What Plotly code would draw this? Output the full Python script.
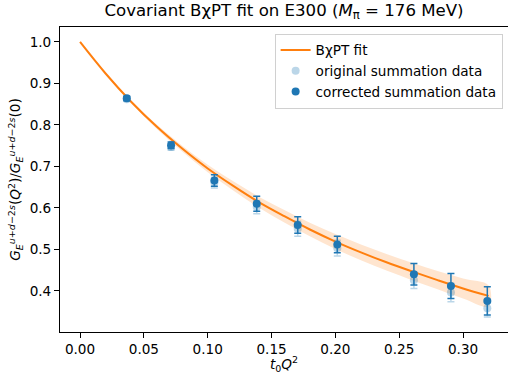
import plotly.graph_objects as go

# Data points (t0 Q^2)
x_pts = [0.0366, 0.0713, 0.1052, 0.1384, 0.1705, 0.2015, 0.2615, 0.2905, 0.3190]
# corrected summation data
y_corr = [0.864, 0.751, 0.666, 0.610, 0.559, 0.512, 0.440, 0.412, 0.376]
e_corr = [0.005, 0.008, 0.014, 0.018, 0.020, 0.020, 0.026, 0.030, 0.034]
# original summation data
y_orig = [0.862, 0.747, 0.661, 0.602, 0.550, 0.503, 0.426, 0.396, 0.358]
e_orig = [0.005, 0.008, 0.013, 0.016, 0.018, 0.019, 0.020, 0.022, 0.021]

# BχPT fit curve with error band
x_fit = [0.00, 0.02, 0.04, 0.06, 0.08, 0.10, 0.12, 0.14, 0.16, 0.18, 0.20,
         0.22, 0.24, 0.26, 0.28, 0.30, 0.32]
y_fit = [1.000, 0.924, 0.856, 0.796, 0.743, 0.695, 0.653, 0.614, 0.580, 0.548,
         0.519, 0.493, 0.469, 0.447, 0.426, 0.406, 0.388]
y_fit_hi = [1.000, 0.925, 0.859, 0.801, 0.750, 0.704, 0.664, 0.627, 0.595, 0.564,
            0.537, 0.512, 0.489, 0.468, 0.448, 0.430, 0.413]
y_fit_lo = [1.000, 0.923, 0.853, 0.791, 0.736, 0.686, 0.642, 0.601, 0.565, 0.532,
            0.501, 0.474, 0.449, 0.426, 0.404, 0.382, 0.363]

x_ticks = [0.00, 0.05, 0.10, 0.15, 0.20, 0.25, 0.30]
y_ticks = [0.4, 0.5, 0.6, 0.7, 0.8, 0.9, 1.0]

BLUE = "#1f77b4"
ORANGE = "#ff7f0e"
FONT = "DejaVu Sans"
FS = 13.6

fig = go.Figure()

# band
fig.add_trace(go.Scatter(
    x=x_fit + x_fit[::-1], y=y_fit_hi + y_fit_lo[::-1],
    fill="toself", fillcolor="rgba(255,127,14,0.2)",
    line=dict(width=0), mode="lines", line_shape="spline",
    showlegend=False, hoverinfo="skip"))

fig.add_trace(go.Scatter(
    x=x_fit, y=y_fit, mode="lines", line=dict(color=ORANGE, width=2, shape="spline"),
    name="BχPT fit"))

fig.add_trace(go.Scatter(
    x=x_pts, y=y_orig, mode="markers",
    marker=dict(color="rgba(31,119,180,0.3)", size=8),
    error_y=dict(type="data", array=e_orig, color="rgba(31,119,180,0.3)",
                 thickness=1.5, width=3.5),
    name="original summation data"))

fig.add_trace(go.Scatter(
    x=x_pts, y=y_corr, mode="markers",
    marker=dict(color=BLUE, size=8),
    error_y=dict(type="data", array=e_corr, color=BLUE, thickness=1.5, width=3.5),
    name="corrected summation data"))

fig.update_layout(
    width=508, height=374,
    margin=dict(l=60, r=0, t=27, b=42),
    paper_bgcolor="white", plot_bgcolor="white",
    font=dict(family=FONT, size=FS, color="black"),
    title=dict(text="Covariant BχPT fit on E300 (<i>M</i><sub>π</sub> = 176 MeV)",
               x=0.5, xref="paper", xanchor="center",
               y=1, yref="container", yanchor="top", pad=dict(t=4),
               font=dict(size=16.6, family=FONT, color="black")),
    legend=dict(x=0.988, y=0.978, xanchor="right", yanchor="top",
                bgcolor="rgba(255,255,255,0.8)", bordercolor="#d0d0d0", borderwidth=1,
                font=dict(size=FS, family=FONT), tracegroupgap=0,
                itemwidth=30),
    showlegend=True,
)

fig.update_xaxes(
    range=[-0.0157, 0.3352], tickvals=x_ticks, tickformat=".2f",
    showgrid=False, zeroline=False, showline=True, linecolor="black", linewidth=1,
    mirror=True, ticks="outside", ticklen=5, tickwidth=1, tickcolor="black",
    title=dict(text="<i>t</i><sub>0</sub><i>Q</i><sup>2</sup>", standoff=2,
               font=dict(size=FS)),
)
fig.update_yaxes(
    range=[0.301, 1.036], tickvals=y_ticks, tickformat=".1f",
    showgrid=False, zeroline=False, showline=True, linecolor="black", linewidth=1,
    mirror=False, ticks="outside", ticklen=5, tickwidth=1, tickcolor="black",
    title=dict(text="<i>G</i><sub><i>E</i></sub><sup><i>u</i>+<i>d</i>−2<i>s</i></sup>(<i>Q</i><sup>2</sup>)/<i>G</i><sub><i>E</i></sub><sup><i>u</i>+<i>d</i>−2<i>s</i></sup>(0)",
               standoff=5, font=dict(size=FS)),
)

fig.write_html("out.html")
